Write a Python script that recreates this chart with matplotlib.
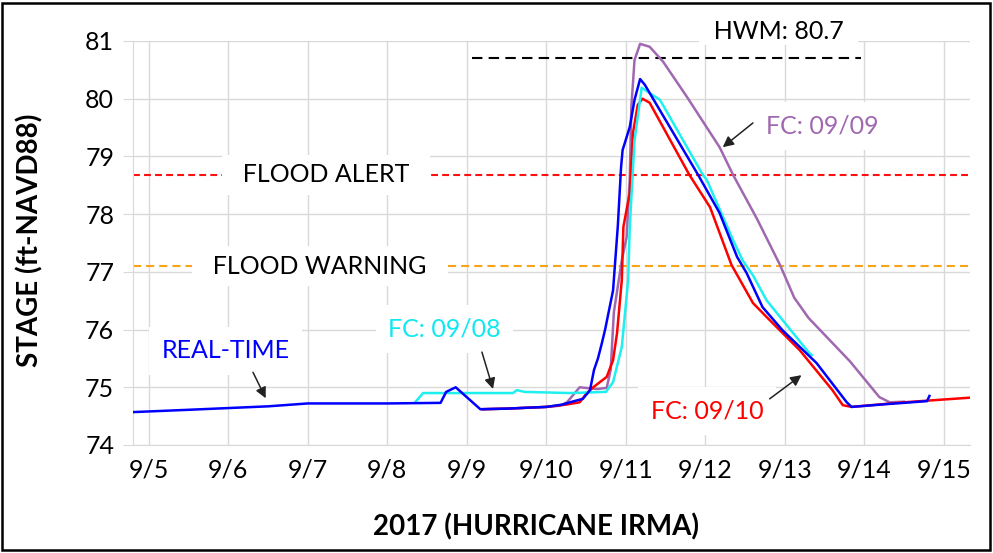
import matplotlib
matplotlib.use('Agg')
import matplotlib.pyplot as plt
from matplotlib.patches import Rectangle

plt.rcParams['font.family'] = ['Lato', 'DejaVu Sans']

# days in September 2017 (9.0 = 9/9 00:00), stage in ft-NAVD88
rt_day = [4.80, 5.5, 6.0, 6.5, 7.0, 8.0, 8.67, 8.74, 8.86, 9.17, 9.5, 10.0, 10.2, 10.35,
          10.46, 10.55, 10.60, 10.65, 10.70, 10.74, 10.84, 10.90, 10.94, 10.96, 11.05,
          11.11, 11.18, 11.24, 11.91, 12.18, 12.40, 12.52, 12.72, 12.97, 13.40, 13.78,
          13.84, 14.3, 14.79, 14.82]
rt_stage = [74.57, 74.61, 74.64, 74.67, 74.72, 74.72, 74.73, 74.92, 75.00, 74.62, 74.63,
            74.66, 74.70, 74.76, 74.80, 74.95, 75.3, 75.5, 75.77, 76.0, 76.68, 77.8,
            78.8, 79.11, 79.51, 79.98, 80.34, 80.24, 78.68, 78.02, 77.26, 76.98, 76.39,
            75.99, 75.42, 74.74, 74.66, 74.71, 74.76, 74.85]

fc08_day = [8.35, 8.45, 9.0, 9.58, 9.63, 9.73, 10.3, 10.75, 10.84, 10.95, 11.03, 11.05,
            11.11, 11.2, 11.34, 11.43, 11.97, 12.02, 12.35, 12.47, 12.60, 12.77, 13.31,
            13.34]
fc08_stage = [74.74, 74.9, 74.9, 74.9, 74.95, 74.92, 74.9, 74.92, 75.09, 75.7, 76.86,
              77.78, 79.28, 80.19, 80.06, 79.98, 78.68, 78.59, 77.55, 77.2, 76.94,
              76.51, 75.59, 75.56]

fc09_day = [9.2, 9.5, 10.0, 10.17, 10.26, 10.42, 10.64, 10.76, 10.81, 10.85, 10.95,
            11.01, 11.05, 11.07, 11.11, 11.18, 11.30, 11.47, 11.77, 12.18, 12.35,
            12.65, 12.94, 13.12, 13.30, 13.82, 14.19, 14.32, 14.5]
fc09_stage = [74.62, 74.63, 74.66, 74.68, 74.74, 75.0, 74.97, 74.99, 75.3, 76.3, 77.2,
              77.6, 78.6, 79.86, 80.67, 80.95, 80.9, 80.64, 80.03, 79.16, 78.68, 77.92,
              77.12, 76.55, 76.2, 75.45, 74.83, 74.74, 74.75]

fc10_day = [9.2, 9.5, 10.0, 10.25, 10.42, 10.51, 10.59, 10.76, 10.84, 10.89, 10.95,
            10.97, 11.05, 11.09, 11.15, 11.21, 11.30, 11.80, 12.06, 12.33, 12.60,
            12.77, 13.19, 13.60, 13.73, 13.84, 14.5, 15.33]
fc10_stage = [74.62, 74.63, 74.66, 74.70, 74.74, 74.9, 75.0, 75.18, 75.47, 75.94, 76.86,
              77.78, 78.37, 79.4, 79.89, 80.0, 79.93, 78.68, 78.12, 77.12, 76.46,
              76.22, 75.64, 74.95, 74.69, 74.66, 74.74, 74.82]

hwm = 80.7
hwm_span = [9.06, 13.96]
flood_alert = 78.68
flood_warning = 77.1

day_ticks = list(range(5, 16))
day_labels = ['9/%d' % d for d in day_ticks]
stage_ticks = list(range(74, 82))

fig = plt.figure(figsize=(9.93, 5.53), dpi=100)
ax = fig.add_axes([0.1339, 0.1953, 0.8429, 0.7306])

ax.set_xlim(4.8, 15.33)
ax.set_ylim(74, 81)
ax.set_xticks(day_ticks)
ax.set_xticklabels(day_labels)
ax.set_yticks(stage_ticks)
ax.grid(True, color='#D9D9D9', lw=1)
ax.set_axisbelow(True)
for s in ['top', 'right']:
    ax.spines[s].set_visible(False)
for s in ['left', 'bottom']:
    ax.spines[s].set_color('#D9D9D9')
ax.tick_params(axis='y', length=7.5, color='#D9D9D9', labelsize=18, pad=6)
ax.tick_params(axis='x', length=0, labelsize=18, pad=10)

# reference levels
ax.axhline(flood_alert, color='#FF1010', lw=1.5, dashes=(3.3, 2), zorder=2)
ax.axhline(flood_warning, color='#F8A418', lw=1.5, dashes=(3.9, 2.4), zorder=2)
ax.plot(hwm_span, [hwm, hwm], color='black', lw=1.5, dashes=(5, 3), zorder=2)

# hydrographs
ax.plot(fc09_day, fc09_stage, color='#A068B0', lw=1.8, zorder=3)
ax.plot(fc10_day, fc10_stage, color='#FF0000', lw=1.8, zorder=4)
ax.plot(fc08_day, fc08_stage, color='#1EF0F0', lw=1.8, zorder=5)
ax.plot(rt_day, rt_stage, color='#0000FF', lw=1.8, zorder=6)

box = dict(facecolor='white', edgecolor='none', pad=9)
ax.text(7.23, flood_alert, '  FLOOD ALERT  ', fontsize=18, ha='center', va='center',
        bbox=dict(facecolor='white', edgecolor='none', pad=6), zorder=7)
ax.text(7.15, flood_warning, '  FLOOD WARNING  ', fontsize=18, ha='center', va='center',
        bbox=dict(facecolor='white', edgecolor='none', pad=6), zorder=7)
ax.text(12.92, 81.16, '  HWM: 80.7  ', fontsize=18, ha='center', va='center',
        bbox=dict(facecolor='white', edgecolor='none', pad=1), zorder=7, clip_on=False)

ax.text(5.97, 75.63, 'REAL-TIME', fontsize=18, color='#0000FF', ha='center', va='center',
        bbox=box, zorder=7)
ax.text(8.72, 76.01, 'FC: 09/08', fontsize=18, color='#10E8F0', ha='center', va='center',
        bbox=box, zorder=7)
ax.text(13.47, 79.53, 'FC: 09/09', fontsize=18, color='#A068B0', ha='center', va='center',
        bbox=box, zorder=7)
ax.text(12.02, 74.59, 'FC: 09/10', fontsize=18, color='#FF0000', ha='center', va='center',
        bbox=box, zorder=7)

arrow = dict(arrowstyle='-|>', color='#222222', lw=1.1, mutation_scale=16,
             shrinkA=0, shrinkB=0)
ax.annotate('', xy=(6.47, 74.81), xytext=(6.31, 75.26), arrowprops=arrow, zorder=8)
ax.annotate('', xy=(9.33, 74.97), xytext=(9.19, 75.61), arrowprops=arrow, zorder=8)
ax.annotate('', xy=(12.22, 79.16), xytext=(12.60, 79.58), arrowprops=arrow, zorder=8)
ax.annotate('', xy=(13.21, 75.21), xytext=(12.81, 74.80), arrowprops=arrow, zorder=8)

fig.text(30 / 993, 1 - 240 / 553, 'STAGE (ft-NAVD88)', rotation=90, fontsize=20,
         fontweight='bold', ha='center', va='center')
fig.text(536 / 993, 1 - 527 / 553, '2017 (HURRICANE IRMA)', fontsize=20,
         fontweight='bold', ha='center', va='center')

fig.patches.append(Rectangle((2 / 993, 3 / 553), 988 / 993, 547 / 553, transform=fig.transFigure,
                             fill=False, edgecolor='black', lw=1.8))

fig.savefig('out.png', dpi=100)
